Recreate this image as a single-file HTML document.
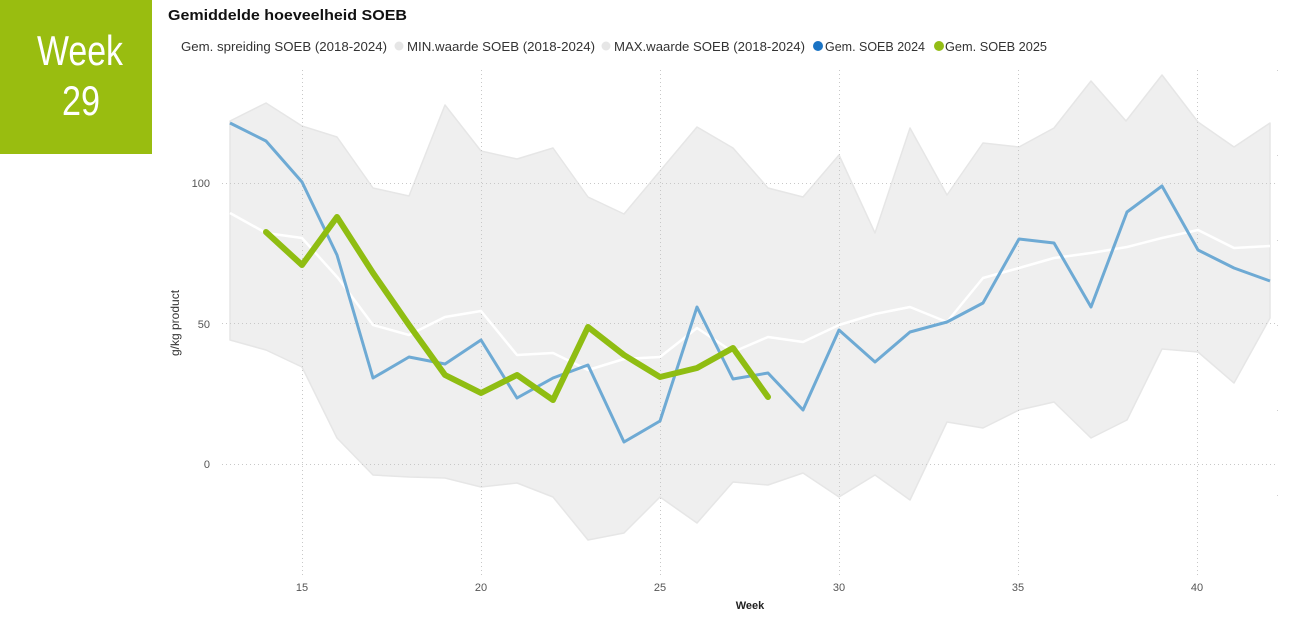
<!DOCTYPE html>
<html>
<head>
<meta charset="utf-8">
<style>
  html,body{margin:0;padding:0;background:#fff;}
  body{width:1296px;height:617px;overflow:hidden;}
  svg{display:block;}
  text{font-family:"Liberation Sans",sans-serif;}
</style>
</head>
<body>
<svg width="1296" height="617" viewBox="0 0 1296 617" xmlns="http://www.w3.org/2000/svg">
  <!-- Green week box -->
  <rect x="0" y="0" width="152" height="154" fill="#99bd10"/>
  <text x="80" y="65" fill="#fff" font-size="42" text-anchor="middle" textLength="86" lengthAdjust="spacingAndGlyphs">Week</text>
  <text x="81" y="115" fill="#fff" font-size="42" text-anchor="middle" textLength="38" lengthAdjust="spacingAndGlyphs">29</text>

  <!-- Title -->
  <text x="168" y="20" fill="#111" font-size="15" font-weight="bold" textLength="239" lengthAdjust="spacingAndGlyphs">Gemiddelde hoeveelheid SOEB</text>

  <!-- Legend -->
  <g font-size="13" fill="#333">
    <text x="181" y="51" textLength="206" lengthAdjust="spacingAndGlyphs">Gem. spreiding SOEB (2018-2024)</text>
    <circle cx="399" cy="46" r="4.5" fill="#e6e6e6"/>
    <text x="407" y="51" textLength="188" lengthAdjust="spacingAndGlyphs">MIN.waarde SOEB (2018-2024)</text>
    <circle cx="606" cy="46" r="4.5" fill="#e6e6e6"/>
    <text x="614" y="51" textLength="191" lengthAdjust="spacingAndGlyphs">MAX.waarde SOEB (2018-2024)</text>
    <circle cx="818" cy="46" r="5" fill="#1a73c4"/>
    <text x="825" y="51" textLength="100" lengthAdjust="spacingAndGlyphs">Gem. SOEB 2024</text>
    <circle cx="939" cy="46" r="5" fill="#93bd16"/>
    <text x="945" y="51" textLength="102" lengthAdjust="spacingAndGlyphs">Gem. SOEB 2025</text>
  </g>

  <!-- Band -->
  <polygon fill="#efefef" stroke="#e6e6e6" stroke-width="1.5" stroke-linejoin="round"
    points="230,121 266,103 302,126 337,137 373,188 409,196 445,105 481,151 517,159 553,148 588,197 624,214 660,171 697,127 733,148 768,188 803,197 839,155 875,233 910,128 947,195 983,143 1019,147 1054,128 1091,81 1126,121 1162,75 1198,122 1234,147 1270,123
    1270,318 1234,383 1198,352 1162,349 1127,420 1091,438 1054,402 1019,410 983,428 947,422 910,500 875,475 839,497 803,473 768,485 733,482 697,523 660,497 624,533 588,540 553,497 517,483 481,487 445,478 409,477 373,475 337,438 302,367 266,350 230,340"/>

  <!-- Gridlines -->
  <g stroke="#c8c8c8" stroke-width="1" stroke-dasharray="1,3">
    <line x1="222" y1="183.5" x2="1278" y2="183.5"/>
    <line x1="222" y1="323.5" x2="1278" y2="323.5"/>
    <line x1="222" y1="464.5" x2="1278" y2="464.5"/>
    <line x1="302.5" y1="70" x2="302.5" y2="577"/>
    <line x1="481.5" y1="70" x2="481.5" y2="577"/>
    <line x1="660.5" y1="70" x2="660.5" y2="577"/>
    <line x1="839.5" y1="70" x2="839.5" y2="577"/>
    <line x1="1018.5" y1="70" x2="1018.5" y2="577"/>
    <line x1="1197.5" y1="70" x2="1197.5" y2="577"/>
  </g>
  <line x1="1277.5" y1="70" x2="1277.5" y2="577" stroke="#cfcfcf" stroke-width="1" stroke-dasharray="1,84"/>

  <!-- White average line -->
  <polyline fill="none" stroke="#ffffff" stroke-width="2.5" stroke-linejoin="round"
    points="230,213 266,233 302,238 338,278 373,325 409,335 445,317 481,311 517,355 553,353 588,370 624,359 660,357 697,328 733,352 768,337 803,342 839,325 875,314 910,307 947,322 983,278 1019,268 1054,258 1091,253 1127,247 1162,238 1198,230 1234,248 1270,246"/>

  <!-- Blue 2024 -->
  <polyline fill="none" stroke="#6eaad4" stroke-width="3" stroke-linejoin="round"
    points="230,123 266,141 302,182 337,255 373,378 409,357 445,364 481,340 517,398 553,378 588,365 624,442 660,421 697,307 733,379 768,373 803,410 839,330 875,362 910,332 947,322 983,303 1019,239 1054,243 1091,307 1127,212 1162,186 1198,250 1234,268 1270,281"/>

  <!-- Green 2025 -->
  <polyline fill="none" stroke="#8fbd12" stroke-width="6" stroke-linejoin="round" stroke-linecap="round"
    points="266,232 302,265 337,217 373,273 409,325 445,375 481,393 517,375 553,400 588,327 624,355 660,377 697,368 733,348 768,397"/>

  <!-- Y axis labels -->
  <g font-size="11" fill="#555" text-anchor="end">
    <text x="210" y="187">100</text>
    <text x="210" y="328">50</text>
    <text x="210" y="468">0</text>
  </g>
  <text x="0" y="0" font-size="12" fill="#333" text-anchor="middle" transform="translate(179,323) rotate(-90)">g/kg product</text>

  <!-- X axis labels -->
  <g font-size="11" fill="#555" text-anchor="middle">
    <text x="302" y="591">15</text>
    <text x="481" y="591">20</text>
    <text x="660" y="591">25</text>
    <text x="839" y="591">30</text>
    <text x="1018" y="591">35</text>
    <text x="1197" y="591">40</text>
  </g>
  <text x="750" y="609" font-size="11" font-weight="bold" fill="#222" text-anchor="middle">Week</text>
</svg>
</body>
</html>
